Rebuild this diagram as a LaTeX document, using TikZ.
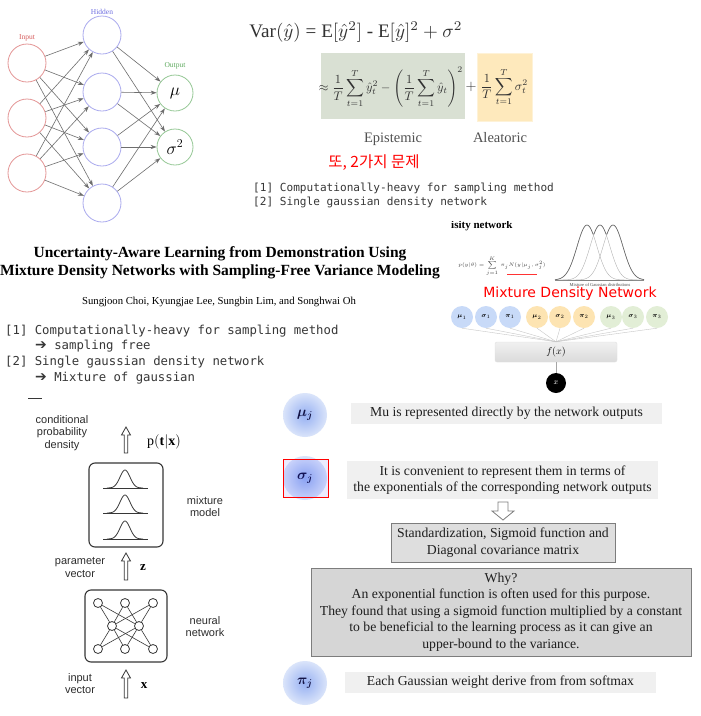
\documentclass[tikz,border=0pt]{standalone}
\usepackage{fontspec}
\usepackage{amsmath}
\setmainfont{Liberation Serif}
\setsansfont{Liberation Sans}
\setmonofont{DejaVu Sans Mono}
\newfontfamily\krfont{Noto Sans CJK KR}
\newfontfamily\dvsans{DejaVu Sans}
\usetikzlibrary{arrows.meta}
\definecolor{inred}{RGB}{228,150,150}
\definecolor{hidblue}{RGB}{170,170,238}
\definecolor{outgreen}{RGB}{150,200,150}
\definecolor{labred}{RGB}{215,95,95}
\definecolor{labblue}{RGB}{110,110,225}
\definecolor{labgreen}{RGB}{95,170,95}
\definecolor{arrgray}{RGB}{110,110,110}
\definecolor{epigreen}{RGB}{217,224,211}
\definecolor{aleayellow}{RGB}{254,233,188}
\definecolor{formgray}{RGB}{50,50,50}
\definecolor{monogray}{RGB}{55,55,55}
\definecolor{mdnblue}{RGB}{200,218,248}
\definecolor{mdnorange}{RGB}{253,228,178}
\definecolor{mdngreen}{RGB}{226,238,214}
\definecolor{lbldark}{RGB}{45,45,45}
\definecolor{framedark}{RGB}{55,55,55}
\definecolor{cin}{RGB}{150,176,242}
\definecolor{cout}{RGB}{218,228,250}
\definecolor{navy}{RGB}{20,20,70}
\definecolor{tgray1}{RGB}{240,240,240}
\definecolor{tgray2}{RGB}{222,222,222}
\definecolor{tgray3}{RGB}{214,214,214}
\definecolor{bordgray}{RGB}{125,125,125}
\definecolor{tdark}{RGB}{30,30,30}
\tikzset{
  nnin/.style={circle,draw=inred,line width=0.8pt,minimum size=38pt,inner sep=0pt},
  nnhid/.style={nnin,draw=hidblue},
  nnout/.style={nnin,draw=outgreen,minimum size=36pt,font=\fontsize{18}{18}\selectfont},
  nnarr/.style={draw=arrgray,line width=0.6pt,-{Stealth[length=6pt,width=4.2pt]}},
  nnlbl/.style={font=\fontsize{7.5}{8}\selectfont,inner sep=0pt},
  mono1/.style={font=\ttfamily\fontsize{11.1}{13}\selectfont,text=monogray,anchor=west,inner sep=0pt},
  mono2/.style={font=\ttfamily\fontsize{12.3}{14}\selectfont,text=monogray,anchor=west,inner sep=0pt},
  mdnc/.style={circle,minimum size=22pt,inner sep=0pt,font=\fontsize{6.5}{7}\selectfont},
  mdnline/.style={draw=black!22,line width=0.4pt},
  sanslbl/.style={font=\sffamily\fontsize{11}{12.5}\selectfont,text=lbldark,align=center,inner sep=0pt},
  ruleframe/.style={draw=framedark,line width=1.1pt,rounded corners=6pt},
  smallnode/.style={circle,draw=framedark,line width=0.8pt,fill=white,minimum size=9pt,inner sep=0pt},
  nnedge/.style={draw=framedark,line width=0.6pt},
  hollow/.style={draw=framedark,line width=0.8pt,fill=white},
  bigc/.style={circle,minimum size=44pt,inner sep=0pt,inner color=cin,outer color=cout,font=\fontsize{14}{14}\selectfont,text=navy},
  tbox/.style={fill=tgray1,inner sep=0pt,font=\fontsize{13.7}{16.5}\selectfont,text=tdark,align=center},
  tboxb/.style={tbox,fill=tgray2,draw=bordgray,line width=0.8pt},
  arrowglyph/.style={font=\dvsans\fontsize{14}{14}\selectfont},
}
\begin{document}
\begin{tikzpicture}[x=1pt,y=-1pt]
\fill[white] (0,0) rectangle (701,716);
\useasboundingbox (0,0) rectangle (701,716);

% ---------- top-left network
\node[nnin] (i1) at (27,63) {};
\node[nnin] (i2) at (27,118) {};
\node[nnin] (i3) at (27,173) {};
\node[nnhid] (h1) at (102,35) {};
\node[nnhid] (h2) at (102,92) {};
\node[nnhid] (h3) at (102,147) {};
\node[nnhid] (h4) at (102,203) {};
\node[nnout] (o1) at (175,93) {$\mu$};
\node[nnout] (o2) at (175,147) {$\sigma^2$};
\node[nnlbl,text=labred] (lin) at (27,38) {Input};
\node[nnlbl,text=labblue] (lhid) at (102,12) {Hidden};
\node[nnlbl,text=labgreen] (lout) at (175,66) {Output};
\foreach \i in {1,2,3} \foreach \h in {1,2,3,4} \draw[nnarr] (i\i) -- (h\h);
\foreach \h in {1,2,3,4} \foreach \o in {1,2} \draw[nnarr] (h\h) -- (o\o);

% ---------- top-right formula
\node[text=formgray,inner sep=0pt] (var) at (356,32) {\resizebox{213pt}{!}{Var$(\hat{y})$ = E$[\hat{y}^2]$ - E$[\hat{y}]^2+\sigma^2$}};
\node[fill=epigreen,minimum width=144pt,minimum height=66pt,inner sep=0pt] (gbox) at (393,86) {};
\node[fill=aleayellow,draw=aleayellow!60!white,minimum width=55pt,minimum height=68pt,inner sep=0pt] (ybox) at (504.5,87) {};
\node[text=formgray,inner sep=0pt] (fa) at (391,87) {\resizebox{144pt}{!}{$\displaystyle \approx\frac{1}{T}\sum_{t=1}^{T}\hat{y}_t^2-\left(\frac{1}{T}\sum_{t=1}^{T}\hat{y}_t\right)^{2}$}};
\node[text=formgray,inner sep=0pt,font=\fontsize{15}{15}\selectfont] (plus) at (471,87) {$+$};
\node[text=formgray,inner sep=0pt] (fb) at (504.5,87) {\resizebox{47pt}{!}{$\displaystyle \frac{1}{T}\sum_{t=1}^{T}\sigma_t^2$}};
\node[text=formgray!85!white,font=\fontsize{14.5}{14.5}\selectfont,anchor=base,inner sep=0pt] (epi) at (393,142) {Epistemic};
\node[text=formgray!85!white,font=\fontsize{14.5}{14.5}\selectfont,anchor=base,inner sep=0pt] (ale) at (500,142) {Aleatoric};
\node[text=red,font=\krfont\fontsize{15.5}{16}\selectfont,inner sep=0pt] (kr) at (374,163) {또, 2가지 문제};
\node[mono1] (t1) at (253,188) {[1] Computationally-heavy for sampling method};
\node[mono1] (t2) at (253,202) {[2] Single gaussian density network};

% ---------- paper title
\node[font=\bfseries\fontsize{15.5}{18}\selectfont,align=center,inner sep=0pt] (title) at (220,263) {Uncertainty-Aware Learning from Demonstration Using\\Mixture Density Networks with Sampling-Free Variance Modeling};
\node[font=\fontsize{10.7}{12}\selectfont,inner sep=0pt] (auth) at (219,302) {Sungjoon Choi, Kyungjae Lee, Sungbin Lim, and Songhwai Oh};
\node[mono2] (m1) at (5,331) {[1] Computationally-heavy for sampling method};
\node[mono2] (m2) at (35,346) {{\dvsans\fontsize{14}{14}\selectfont ➔} sampling free};
\node[mono2] (m3) at (5,362) {[2] Single gaussian density network};
\node[mono2] (m4) at (35,378) {{\dvsans\fontsize{14}{14}\selectfont ➔} Mixture of gaussian};
\draw[line width=1pt,framedark] (28,398) -- (42,398);

% ---------- MDN figure
\begin{scope}
\clip (440,221) rectangle (540,232);
\node[font=\bfseries\fontsize{11}{11}\selectfont,anchor=base west,inner sep=0pt] (isity) at (451,228) {isity network};
\end{scope}
\node[font=\fontsize{5.4}{6}\selectfont,inner sep=0pt,text=black!75] (pform) at (502,266) {$p(y|\theta)=\displaystyle\sum_{j=1}^{K}\ \pi_j N(y|\mu_j,\sigma_j^2)$};
\draw[red!80,line width=0.7pt] (507,274) -- (537,274);
\draw[black!50,line width=0.4pt] (555,280) -- (644,280);
\foreach \c in {587,600,613}
  \draw[black!30,line width=0.4pt] plot[domain=555:644,samples=70,smooth] (\x,{280-55*exp(-((\x-\c)^2)/200)});
\draw[black!60,line width=0.6pt] plot[domain=555:644,samples=90,smooth] (\x,{280-55*max(exp(-((\x-587)^2)/200),exp(-((\x-600)^2)/200),exp(-((\x-613)^2)/200))});
\node[font=\fontsize{4.5}{5}\selectfont,inner sep=0pt,text=black!70] (mglbl) at (600,285) {Mixture of Gaussian distributions};
\node[text=red,font=\dvsans\fontsize{14}{14}\selectfont,inner sep=0pt] (mdn) at (570,294) {Mixture Density Network};
\node[mdnc,fill=mdnblue] (c1) at (462,317) {$\boldsymbol{\mu}_1$};
\node[mdnc,fill=mdnblue] (c2) at (486,317) {$\boldsymbol{\sigma}_1$};
\node[mdnc,fill=mdnblue] (c3) at (510,317) {$\boldsymbol{\pi}_1$};
\node[mdnc,fill=mdnorange] (c4) at (537,317) {$\boldsymbol{\mu}_2$};
\node[mdnc,fill=mdnorange] (c5) at (560,317) {$\boldsymbol{\sigma}_2$};
\node[mdnc,fill=mdnorange] (c6) at (584,317) {$\boldsymbol{\pi}_2$};
\node[mdnc,fill=mdngreen] (c7) at (611,317) {$\boldsymbol{\mu}_3$};
\node[mdnc,fill=mdngreen] (c8) at (633,317) {$\boldsymbol{\sigma}_3$};
\node[mdnc,fill=mdngreen] (c9) at (657,317) {$\boldsymbol{\pi}_3$};
\node[top color=black!6,bottom color=black!14,draw=black!12,rounded corners=2pt,minimum width=122pt,minimum height=20pt,inner sep=0pt,font=\fontsize{10}{10}\selectfont] (fx) at (556,352) {$f(x)$};
\foreach \k in {1,...,9} \draw[mdnline] (c\k.south) -- (fx.north);
\node[circle,fill=black,minimum size=20pt,inner sep=0pt,text=white,font=\fontsize{8}{8}\selectfont] (xin) at (556,383) {$x$};
\draw[black!35,line width=0.6pt] (fx.south) -- (xin.north);

% ---------- bottom-left Bishop figure
\node[sanslbl] (cpd) at (62,433) {conditional\\probability\\density};
\node[font=\fontsize{14}{14}\selectfont,inner sep=0pt] (ptx) at (164,442) {$\mathrm{p}(\mathbf{t}|\mathbf{x})$};
\draw[hollow] (124.2,453) -- (124.2,435) -- (121.5,435) -- (126,427) -- (130.5,435) -- (127.8,435) -- (127.8,453) -- cycle;
\node[ruleframe,minimum width=74pt,minimum height=84pt,inner sep=0pt] (mixbox) at (126,505) {};
\foreach \yb in {488,513,539} {
  \draw[framedark,line width=0.8pt] (103,\yb) -- (148,\yb);
  \draw[framedark,line width=0.8pt] plot[domain=-18:18,samples=50,smooth] ({125+\x},{\yb-18*exp(-(\x*\x)/50)});
}
\node[sanslbl] (mixlbl) at (205,506.5) {mixture\\model};
\node[sanslbl] (parlbl) at (80,567.5) {parameter\\vector};
\draw[hollow] (124.2,580) -- (124.2,561) -- (121.5,561) -- (126,553) -- (130.5,561) -- (127.8,561) -- (127.8,580) -- cycle;
\node[font=\fontsize{13}{13}\selectfont,inner sep=0pt] (zlbl) at (143,568) {$\mathbf{z}$};
\node[ruleframe,minimum width=82pt,minimum height=72pt,inner sep=0pt] (nnbox) at (126,626) {};
\node[smallnode] (a1) at (98,603) {};
\node[smallnode] (a2) at (125,603) {};
\node[smallnode] (a3) at (153,603) {};
\node[smallnode] (b1) at (112,626) {};
\node[smallnode] (b2) at (139,626) {};
\node[smallnode] (d1) at (98,649) {};
\node[smallnode] (d2) at (125,649) {};
\node[smallnode] (d3) at (153,649) {};
\foreach \u in {a1,a2,a3} \foreach \v in {b1,b2} \draw[nnedge] (\u) -- (\v);
\foreach \u in {b1,b2} \foreach \v in {d1,d2,d3} \draw[nnedge] (\u) -- (\v);
\node[sanslbl] (nnlbl) at (205,626.5) {neural\\network};
\node[sanslbl] (inlbl) at (80,683.5) {input\\vector};
\draw[hollow] (124.2,698) -- (124.2,678) -- (121.5,678) -- (126,670) -- (130.5,678) -- (127.8,678) -- (127.8,698) -- cycle;
\node[font=\fontsize{13}{13}\selectfont,inner sep=0pt] (xlbl) at (144,686) {$\mathbf{x}$};

% ---------- bottom-right explanation
\node[bigc] (muj) at (305,415) {$\boldsymbol{\mu_j}$};
\node[tbox,minimum width=311pt,minimum height=21pt] (e1) at (506.5,413.5) {Mu is represented directly by the network outputs};
\node[bigc] (sigj) at (305,478) {$\boldsymbol{\sigma_j}$};
\node[draw=red,line width=0.9pt,fill=blue,fill opacity=0.08,minimum width=45pt,minimum height=38pt,inner sep=0pt] (sigsel) at (305.5,478) {};
\node[tbox,minimum width=311pt,minimum height=38pt] (e2) at (502.5,480) {It is convenient to represent them in terms of\\the exponentials of the corresponding network outputs};
\draw[draw=bordgray,line width=0.8pt,fill=white] (498,502) -- (508,502) -- (508,511) -- (514,511) -- (503,520) -- (492,511) -- (498,511) -- cycle;
\node[tboxb,minimum width=224pt,minimum height=39pt] (e3) at (503,542.5) {Standardization, Sigmoid function and\\Diagonal covariance matrix};
\node[tboxb,fill=tgray3,minimum width=380pt,minimum height=88pt] (e4) at (501,612) {Why?\\An exponential function is often used for this purpose.\\They found that using a sigmoid function multiplied by a constant\\to be beneficial to the learning process as it can give an\\upper-bound to the variance.};
\node[bigc] (pij) at (305,683) {$\boldsymbol{\pi_j}$};
\node[tbox,minimum width=311pt,minimum height=21pt] (e5) at (500.5,682.5) {Each Gaussian weight derive from from softmax};
\end{tikzpicture}
\end{document}
